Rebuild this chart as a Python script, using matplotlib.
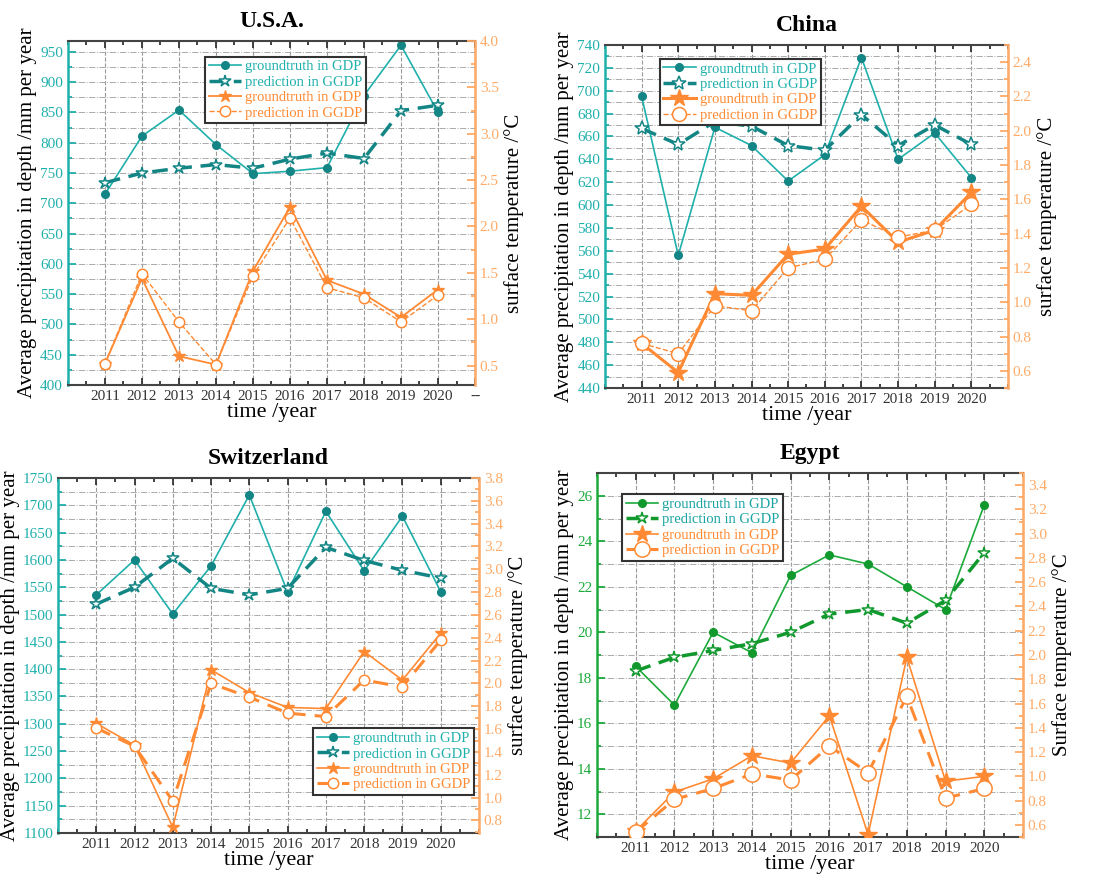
import numpy as np
import matplotlib
matplotlib.use("Agg")
import matplotlib.pyplot as plt
from matplotlib.ticker import MultipleLocator

plt.rcParams['font.family'] = ['Liberation Serif', 'DejaVu Serif']

years = list(range(2011, 2021))

# U.S.A.
usa_prec_gt = [715, 811, 854, 797, 749, 753, 759, 878, 961, 850]
usa_prec_pred = [734, 750, 758, 764, 758, 773, 783, 774, 853, 862]
usa_temp_gt = [0.52, 1.44, 0.60, 0.51, 1.52, 2.21, 1.42, 1.27, 1.02, 1.32]
usa_temp_pred = [0.52, 1.49, 0.97, 0.51, 1.47, 2.09, 1.34, 1.23, 0.97, 1.26]

# China
chn_prec_gt = [695, 556, 668, 652, 621, 644, 729, 640, 663, 624]
chn_prec_pred = [667, 653, 673, 669, 652, 648, 679, 652, 670, 653]
chn_temp_gt = [0.76, 0.59, 1.05, 1.04, 1.28, 1.31, 1.56, 1.35, 1.42, 1.64]
chn_temp_pred = [0.76, 0.70, 0.98, 0.95, 1.20, 1.25, 1.48, 1.38, 1.42, 1.57]

# Switzerland
che_prec_gt = [1536, 1600, 1501, 1589, 1719, 1541, 1689, 1580, 1680, 1542]
che_prec_pred = [1519, 1550, 1603, 1548, 1536, 1548, 1623, 1599, 1581, 1567]
che_temp_gt = [1.65, 1.46, 0.74, 2.12, 1.92, 1.79, 1.78, 2.28, 2.03, 2.44]
che_temp_pred = [1.61, 1.45, 0.97, 2.00, 1.88, 1.74, 1.71, 2.03, 1.97, 2.38]

# Egypt
egy_prec_gt = [18.5, 16.8, 20.0, 19.1, 22.5, 23.4, 23.0, 22.0, 21.0, 25.6]
egy_prec_pred = [18.3, 18.9, 19.2, 19.5, 20.0, 20.8, 21.0, 20.4, 21.4, 23.5]
egy_temp_gt = [0.55, 0.87, 0.98, 1.17, 1.11, 1.50, 0.52, 1.98, 0.96, 1.00]
egy_temp_pred = [0.54, 0.81, 0.90, 1.02, 0.97, 1.25, 1.03, 1.66, 0.82, 0.90]

labels = ["groundtruth in GDP", "prediction in GGDP",
          "groundtruth in GDP", "prediction in GGDP"]

TEAL = "#20B0AC"
TEAL_D = "#138585"
ORANGE = "#FF8A33"
ORANGE_L = "#FFAA66"
GREEN = "#1DAA3C"


def panel(rect, title, pg, pp, tg, tp, ylim, ymaj, ymin, tlim, tmaj, tmin,
          leg_loc, leg_anchor, c_left=TEAL, c_mark=TEAL_D, leg_text=TEAL,
          lw_tg=1.2, lw_tp=1.0, ls_tp="--", star_ms=8, circ_ms=8,
          pstar_ms=9, rlabel="surface temperature /\u00b0C",
          extra_tick=False):
    ax = fig.add_axes(rect)
    ax2 = ax.twinx()
    h1, = ax.plot(years, pg, "-o", color=c_left, lw=1.2, ms=5.5,
                  mfc=c_mark, mec=c_mark)
    h2, = ax.plot(years, pp, "--*", color=c_mark, lw=2.5, ms=pstar_ms,
                  mfc="white", mec=c_mark, mew=1.1, dashes=(4.5, 2.5))
    h3, = ax2.plot(years, tg, "-*", color=ORANGE, lw=lw_tg, ms=star_ms,
                   mfc=ORANGE, mec=ORANGE)
    h4, = ax2.plot(years, tp, linestyle=ls_tp, marker="o", color=ORANGE,
                   lw=lw_tp, ms=circ_ms, mfc="white", mec=ORANGE, mew=1.1)

    ax.set_xlim(2010, 2021)
    ax.set_ylim(*ylim)
    ax2.set_ylim(*tlim)
    if extra_tick:
        ax.set_xticks(years + [2021])
        ax.set_xticklabels([str(y) for y in years] + ["--"])
    else:
        ax.set_xticks(years)
    ax.xaxis.set_minor_locator(MultipleLocator(0.5))
    ax.yaxis.set_major_locator(MultipleLocator(ymaj))
    ax.yaxis.set_minor_locator(MultipleLocator(ymin))
    ax2.yaxis.set_major_locator(MultipleLocator(tmaj))
    ax2.yaxis.set_minor_locator(MultipleLocator(tmin))

    ax.tick_params(axis="x", which="both", direction="in", top=True,
                   colors="#333333", labelsize=11, width=1.3)
    ax.tick_params(axis="x", which="major", length=5)
    ax.tick_params(axis="x", which="minor", length=3)
    ax.tick_params(axis="y", which="both", direction="in", colors=c_left,
                   labelsize=11, width=1.3)
    ax.tick_params(axis="y", which="major", length=6)
    ax.tick_params(axis="y", which="minor", length=3)
    ax2.tick_params(axis="y", which="both", direction="in", colors=ORANGE_L,
                    labelsize=11, width=1.3)
    ax2.tick_params(axis="y", which="major", length=6)
    ax2.tick_params(axis="y", which="minor", length=3)

    ax.grid(True, axis="x", which="major", color="#999999", ls="--", lw=0.8)
    ax.grid(True, axis="y", which="both", color="#aaaaaa", ls="-.", lw=0.7)

    for s in ["top", "bottom"]:
        ax.spines[s].set_color("#444444")
        ax.spines[s].set_linewidth(1.5)
    ax.spines["left"].set_color(c_left)
    ax.spines["left"].set_linewidth(1.8)
    ax2.spines["left"].set_visible(False)
    ax2.spines["right"].set_color(ORANGE_L)
    ax2.spines["right"].set_linewidth(1.8)
    ax2.spines["top"].set_visible(False)
    ax2.spines["bottom"].set_visible(False)

    ax.set_title(title, fontsize=17, fontweight="bold", pad=10)
    ax.set_xlabel("time /year", fontsize=16, labelpad=0)
    ax.set_ylabel("Average precipitation in depth /mm per year", fontsize=15,
                  labelpad=2)
    ax2.set_ylabel(rlabel, fontsize=15, labelpad=4)

    leg = ax2.legend([h1, h2, h3, h4], labels, loc=leg_loc,
                     bbox_to_anchor=leg_anchor, fontsize=10.5,
                     fancybox=False, framealpha=1, edgecolor="#333333",
                     handlelength=2.2, handletextpad=0.3, labelspacing=0.15,
                     borderpad=0.25, borderaxespad=0,
                     labelcolor=[leg_text, leg_text, ORANGE, ORANGE])
    leg.get_frame().set_linewidth(1.5)
    return ax, ax2


fig = plt.figure(figsize=(10.96, 8.75), dpi=100)

panel([0.062, 0.56, 0.3714, 0.3931], "U.S.A.", usa_prec_gt, usa_prec_pred,
      usa_temp_gt, usa_temp_pred, (400, 968), 50, 25, (0.29, 4.0), 0.5, 0.25,
      "upper left", (0.337, 0.955), lw_tg=1.3, lw_tp=1.0, star_ms=9,
      circ_ms=7.5, pstar_ms=9, extra_tick=True)

panel([0.552, 0.5566, 0.3677, 0.392], "China", chn_prec_gt, chn_prec_pred,
      chn_temp_gt, chn_temp_pred, (440, 740), 20, 10, (0.5, 2.5), 0.2, 0.1,
      "upper left", (0.136, 0.96), lw_tg=2.2, lw_tp=1.0, star_ms=13,
      circ_ms=10, pstar_ms=10)

panel([0.0529, 0.048, 0.3841, 0.4057], "Switzerland", che_prec_gt,
      che_prec_pred, che_temp_gt, che_temp_pred, (1100, 1750), 50, 25,
      (0.69, 3.8), 0.2, 0.1, "lower left", (0.606, 0.107), lw_tg=1.2,
      lw_tp=2.2, ls_tp=(0, (5, 3)), star_ms=9, circ_ms=7.5, pstar_ms=9)

panel([0.5447, 0.0434, 0.3887, 0.416], "Egypt", egy_prec_gt, egy_prec_pred,
      egy_temp_gt, egy_temp_pred, (11, 27), 2, 1, (0.5, 3.5), 0.2, 0.1,
      "upper left", (0.059, 0.942), c_left=GREEN, c_mark="#12992E",
      leg_text="#1AA3A3", lw_tg=1.2, lw_tp=2.2, ls_tp=(0, (5, 3)),
      star_ms=13, circ_ms=11, pstar_ms=9,
      rlabel="Surface temperature /\u00b0C")

fig.savefig("out.png", dpi=100)
